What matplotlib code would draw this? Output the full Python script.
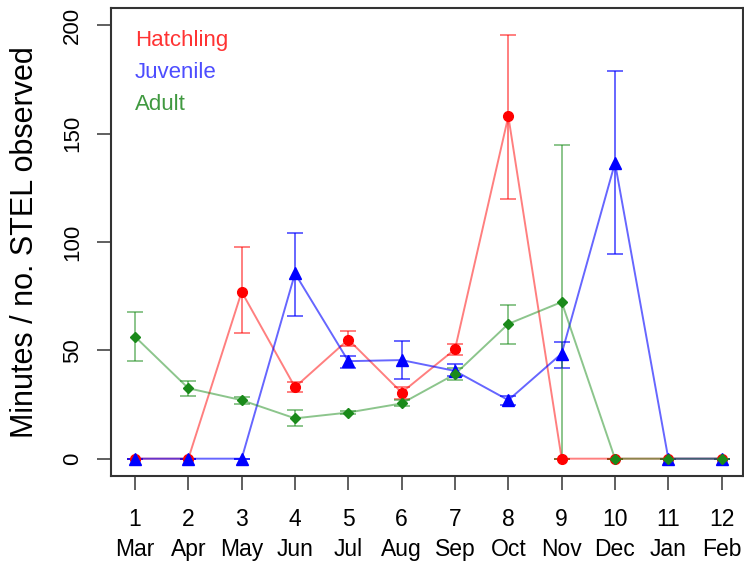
import matplotlib
matplotlib.use("Agg")
import matplotlib.pyplot as plt

plt.rcParams["font.family"] = ["Liberation Sans", "DejaVu Sans"]

# month index and labels
months = list(range(1, 13))
month_names = ["Mar", "Apr", "May", "Jun", "Jul", "Aug",
               "Sep", "Oct", "Nov", "Dec", "Jan", "Feb"]

# mean minutes / no. STEL observed, with upper / lower error limits
hatch = [0, 0, 77, 33, 55, 30.5, 50.5, 158, 0, 0, 0, 0]
hatch_hi = [0, 0, 97.5, 35.5, 59, 33, 53, 195.5, 0, 0, 0, 0]
hatch_lo = [0, 0, 58, 31, 52, 27.5, 48, 120, 0, 0, 0, 0]

juv = [0, 0, 0, 85.5, 45, 45.5, 40.5, 27, 48.5, 136.5, 0, 0]
juv_hi = [0, 0, 0, 104, 47.5, 54.5, 43.5, 29, 54, 179, 0, 0]
juv_lo = [0, 0, 0, 66, 42, 37, 38, 25, 42, 94.5, 0, 0]

adult = [56.3, 32.5, 27, 18.6, 21.3, 25.5, 39, 62.2, 72.3, 0, 0, 0]
adult_hi = [67.7, 36, 28.5, 22.5, 22, 27, 42, 71, 145, 0, 0, 0]
adult_lo = [45, 29, 25.3, 15, 20.5, 24.5, 36.5, 53, 0, 0, 0, 0]

series = [
    ("Hatchling", hatch, hatch_lo, hatch_hi, (1, 0, 0, 0.5), "red", "o", 7, (1, 0.2, 0.2)),
    ("Juvenile", juv, juv_lo, juv_hi, (0, 0, 1, 0.6), "blue", "^", 8, (0.3, 0.3, 1)),
    ("Adult", adult, adult_lo, adult_hi, (0.1, 0.55, 0.1, 0.5), "#1a8a1a", "D", 5.5, (0.25, 0.6, 0.25)),
]

fig = plt.figure(figsize=(7.44, 5.64), dpi=100)
ax = fig.add_axes([111 / 744, 88 / 564, 632 / 744, 468 / 564])

for name, y, lo, hi, lcol, mcol, mk, ms, tcol in series:
    err = [[v - l for v, l in zip(y, lo)], [h - v for v, h in zip(y, hi)]]
    ax.errorbar(months, y, yerr=err, fmt="none", ecolor=lcol, elinewidth=1.4,
                capsize=5.8, capthick=1.4, zorder=2)
    ax.plot(months, y, color=lcol, lw=1.4, zorder=3)
    ax.plot(months, y, ls="none", marker=mk, color=mcol, ms=ms, zorder=4)

# legend as coloured text
for i, (name, *_rest) in enumerate(series):
    ax.text(1.0, 193 - i * 14.7, name, color=_rest[-1], fontsize=16,
            ha="left", va="center")

ax.set_xlim(0.55, 12.4)
ax.set_ylim(-8, 208)
ax.set_xticks(months)
ax.set_xticklabels([f"{m}\n{n}" for m, n in zip(months, month_names)],
                   fontsize=16.5)
ax.set_yticks([0, 50, 100, 150, 200])
ax.set_yticklabels(["0", "50", "100", "150", "200"], fontsize=16,
                   rotation=90, va="center")
ax.tick_params(axis="both", length=10, width=1.2, color="#444444", pad=10)
ax.tick_params(axis="x", pad=13)
for lab in ax.get_xticklabels():
    lab.set_linespacing(1.4)
for sp in ax.spines.values():
    sp.set_linewidth(1.5)
    sp.set_color("#333333")

ax.set_ylabel("Minutes / no. STEL observed", fontsize=22)
ax.yaxis.set_label_coords(-0.113, 0.5)

fig.savefig("out.png", dpi=100)
